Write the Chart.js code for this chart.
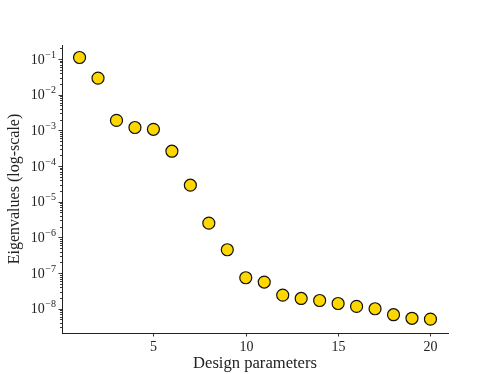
<!DOCTYPE html>
<html><head><meta charset="utf-8">
<script src="https://cdn.jsdelivr.net/npm/chart.js@4/dist/chart.umd.min.js"></script>
<style>html,body{margin:0;padding:0;background:#fff}</style>
</head><body>
<canvas id="c" width="498" height="374"></canvas>
<script>
const designParams = [1,2,3,4,5,6,7,8,9,10,11,12,13,14,15,16,17,18,19,20];
const eigenvalues = [0.11, 0.029, 1.9e-3, 1.2e-3, 1.07e-3, 2.6e-4, 2.9e-5, 2.5e-6, 4.5e-7, 7.4e-8,
                     5.6e-8, 2.4e-8, 1.94e-8, 1.7e-8, 1.4e-8, 1.16e-8, 1.0e-8, 6.8e-9, 5.4e-9, 5.1e-9];
const xTickValues = [5, 10, 15, 20];
const yTickExponents = [-1, -2, -3, -4, -5, -6, -7, -8];
const xTitle = 'Design parameters';
const yTitle = 'Eigenvalues (log-scale)';

const FONT = '"Liberation Serif", "DejaVu Serif", serif';
const INK = '#222';

const axisPlugin = {
  id: 'axisPlugin',
  afterDraw(chart) {
    const ctx = chart.ctx;
    const xs = chart.scales.x, ys = chart.scales.y;
    const a = chart.chartArea;
    ctx.save();
    ctx.strokeStyle = INK;
    ctx.fillStyle = INK;
    ctx.lineWidth = 0.9;
    // y ticks (major + minor)
    for (let e = -9; e <= 0; e++) {
      for (let k = 1; k <= 9; k++) {
        const v = k * Math.pow(10, e);
        if (v < ys.min || v > ys.max) continue;
        const py = Math.round(ys.getPixelForValue(v)) + 0.5;
        const len = k === 1 ? 3.5 : 2;
        ctx.beginPath();
        ctx.moveTo(a.left - len, py);
        ctx.lineTo(a.left, py);
        ctx.stroke();
      }
    }
    // y labels
    ctx.textBaseline = 'middle';
    yTickExponents.forEach(e => {
      const py = ys.getPixelForValue(Math.pow(10, e));
      const expTxt = '\u2212' + Math.abs(e);
      ctx.font = '10px ' + FONT;
      const ew = ctx.measureText(expTxt).width;
      const right = a.left - 6;
      ctx.textAlign = 'right';
      ctx.fillText(expTxt, right, py - 4);
      ctx.font = '14px ' + FONT;
      ctx.fillText('10', right - ew - 0.5, py + 1);
    });
    // x ticks + labels
    ctx.textAlign = 'center';
    ctx.textBaseline = 'middle';
    ctx.font = '14px ' + FONT;
    xTickValues.forEach(v => {
      const px = Math.round(xs.getPixelForValue(v)) + 0.5;
      ctx.beginPath();
      ctx.moveTo(px, a.bottom);
      ctx.lineTo(px, a.bottom + 3.5);
      ctx.stroke();
      ctx.fillText(String(v), px, a.bottom + 14);
    });
    // titles
    ctx.font = '16.6px ' + FONT;
    ctx.fillText(xTitle, (a.left + a.right) / 2, a.bottom + 31);
    ctx.font = '16px ' + FONT;
    ctx.translate(15, (a.top + a.bottom) / 2);
    ctx.rotate(-Math.PI / 2);
    ctx.fillText(yTitle, 0, 0);
    ctx.restore();
  }
};

new Chart(document.getElementById('c'), {
  type: 'scatter',
  data: {
    datasets: [{
      data: designParams.map((x, i) => ({ x: x, y: eigenvalues[i] })),
      pointRadius: 6,
      pointHoverRadius: 6,
      backgroundColor: '#FFD700',
      borderColor: '#111',
      borderWidth: 1.2,
      clip: false
    }]
  },
  options: {
    responsive: false,
    animation: false,
    events: [],
    layout: { padding: { top: 45, right: 50, left: 0, bottom: 0 } },
    plugins: { legend: { display: false }, tooltip: { enabled: false } },
    scales: {
      x: {
        type: 'linear', min: 0.05, max: 20.95,
        grid: { display: false },
        border: { display: true, color: INK, width: 1 },
        ticks: { display: false },
        afterFit(s) { s.height = 41; }
      },
      y: {
        type: 'logarithmic', min: Math.pow(10, -8.68), max: Math.pow(10, -0.608),
        grid: { display: false },
        border: { display: true, color: INK, width: 1 },
        ticks: { display: false },
        afterFit(s) { s.width = 62; }
      }
    }
  },
  plugins: [axisPlugin]
});
</script>
</body></html>
